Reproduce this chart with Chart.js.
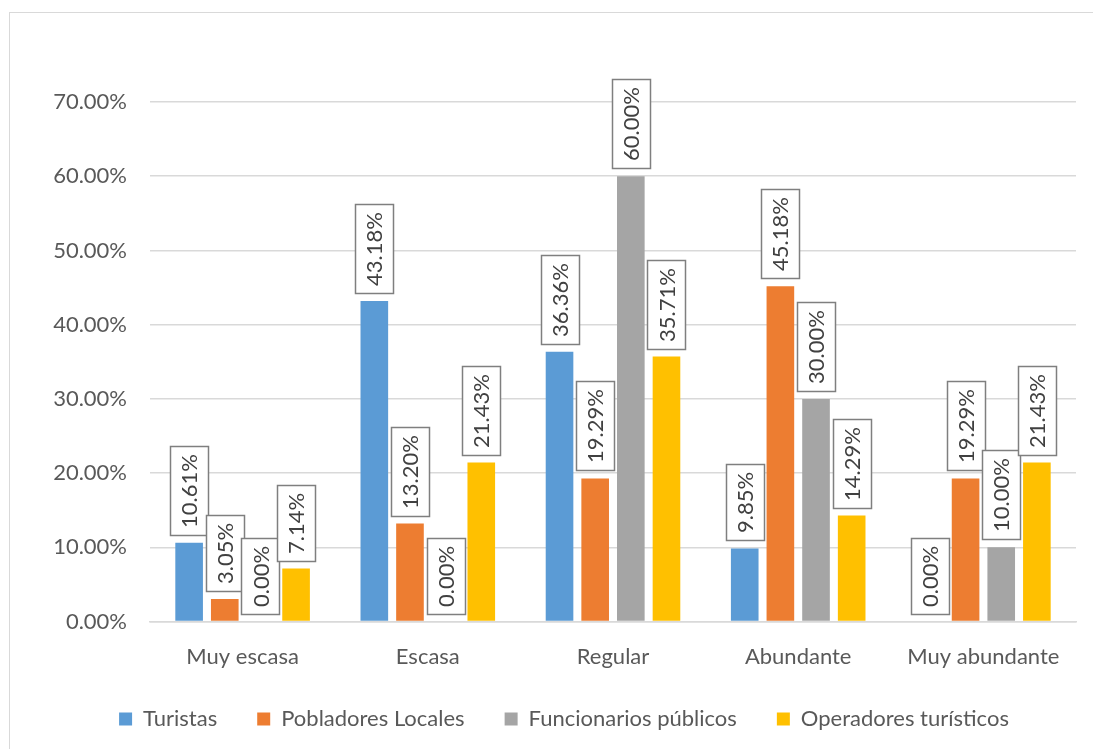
<!DOCTYPE html>
<html>
<head>
<meta charset="utf-8">
<script src="https://cdn.jsdelivr.net/npm/chart.js@4.4.1/dist/chart.umd.min.js"></script>
<style>
html,body{margin:0;padding:0;background:#fff;overflow:hidden;width:1093px;height:749px;}
#frame{position:absolute;left:9px;top:12px;width:1200px;height:800px;border:1px solid #d9d9d9;box-sizing:border-box;}
#wrap{position:absolute;left:0;top:0;width:1093px;height:749px;}
</style>
</head>
<body>
<div id="frame"></div>
<div id="wrap"><canvas id="c" width="1093" height="749"></canvas></div>
<script>
const categories = ["Muy escasa", "Escasa", "Regular", "Abundante", "Muy abundante"];
const seriesNames = ["Turistas", "Pobladores Locales", "Funcionarios públicos", "Operadores turísticos"];
const turistas = [10.61, 43.18, 36.36, 9.85, 0.00];
const pobladores = [3.05, 13.20, 19.29, 45.18, 19.29];
const funcionarios = [0.00, 0.00, 60.00, 30.00, 10.00];
const operadores = [7.14, 21.43, 35.71, 14.29, 21.43];
const yTicks = [0, 10, 20, 30, 40, 50, 60, 70];
const colors = ["#5B9BD5", "#ED7D31", "#A5A5A5", "#FFC000"];

const FONT = "Lato";
const FS = 22;
const TXT = "#595959";

const labelBoxes = {
  id: 'labelBoxes',
  afterDatasetsDraw(chart) {
    const ctx = chart.ctx;
    ctx.save();
    ctx.font = FS + "px " + FONT;
    chart.data.datasets.forEach((ds, di) => {
      const meta = chart.getDatasetMeta(di);
      meta.data.forEach((bar, i) => {
        const txt = ds.data[i].toFixed(2) + "%";
        const tw = ctx.measureText(txt).width;
        const bw = 38, bh = Math.round(tw + 15);
        const cx = bar.x;
        const bottom = bar.y - 8;
        const left = Math.round(cx - bw / 2) + 0.5;
        const top = Math.round(bottom - bh) + 0.5;
        ctx.fillStyle = "#fff";
        ctx.fillRect(left, top, bw, bh);
        ctx.strokeStyle = "#7f7f7f";
        ctx.lineWidth = 1.5;
        ctx.strokeRect(left, top, bw, bh);
        ctx.save();
        ctx.translate(cx, top + bh / 2);
        ctx.rotate(-Math.PI / 2);
        ctx.fillStyle = "#404040";
        ctx.textAlign = "center";
        ctx.textBaseline = "middle";
        ctx.fillText(txt, 0, 1);
        ctx.restore();
      });
    });
    ctx.restore();
  }
};

const seriesData = [turistas, pobladores, funcionarios, operadores];

new Chart(document.getElementById('c'), {
  type: 'bar',
  data: {
    labels: categories,
    datasets: seriesNames.map((n, k) => ({
      label: n,
      data: seriesData[k],
      backgroundColor: colors[k],
      borderWidth: 0,
      categoryPercentage: 0.77,
      barPercentage: 0.775
    }))
  },
  options: {
    responsive: false,
    animation: false,
    devicePixelRatio: 1,
    layout: { padding: { left: 52, right: 17, top: 102, bottom: 9 } },
    plugins: {
      legend: {
        position: 'bottom',
        labels: {
          boxWidth: 13, boxHeight: 13, padding: 40,
          color: TXT, font: { family: FONT, size: FS }
        }
      },
      tooltip: { enabled: false }
    },
    scales: {
      x: {
        afterFit(scale) { scale.height = scale.height - 24; },
        grid: { display: false, drawTicks: false },
        border: { color: "#d9d9d9", width: 1.5 },
        ticks: { color: TXT, font: { family: FONT, size: FS }, padding: 22, maxRotation: 0 }
      },
      y: {
        min: 0, max: 70,
        afterFit(scale) { scale.width = 98; },
        afterBuildTicks(scale) { scale.ticks = yTicks.map(v => ({ value: v })); },
        grid: { color: "#d9d9d9", lineWidth: 1.5, drawTicks: false },
        border: { display: false },
        ticks: {
          color: TXT, font: { family: FONT, size: FS }, padding: 23,
          callback: v => Number(v).toFixed(2) + "%"
        }
      }
    }
  },
  plugins: [labelBoxes]
});
</script>
</body>
</html>
